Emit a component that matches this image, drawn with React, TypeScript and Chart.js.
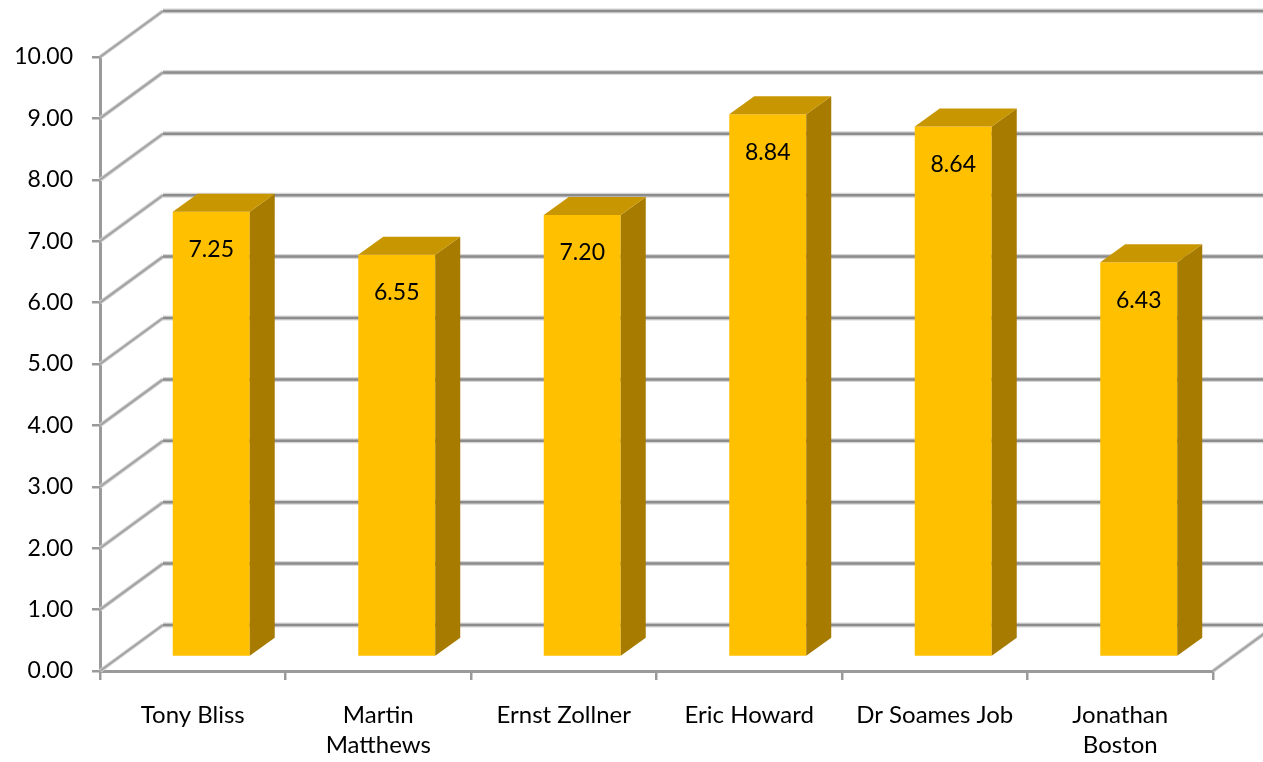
import React, { useEffect, useRef } from "react";
import { Chart, registerables } from "chart.js";

Chart.register(...registerables);

// ---- data ----
const categories: string[][] = [
  ["Tony Bliss"],
  ["Martin", "Matthews"],
  ["Ernst Zollner"],
  ["Eric Howard"],
  ["Dr Soames Job"],
  ["Jonathan", "Boston"],
];
const scores: number[] = [7.25, 6.55, 7.2, 8.84, 8.64, 6.43];
const yMin = 0;
const yMax = 10;
const yStep = 1;

// ---- styles ----
const FONT = "Lato, 'Open Sans', sans-serif";
const FRONT = "#FFC000";
const TOP = "#C89600";
const SIDE = "#A67B00";
const WALL_DX = 63;
const WALL_DY = -46;
const BAR_DX = 18.5;
const BAR_DY = -14;
const SIDE_DX = 25;
const SIDE_DY = -18;
const LABEL_DROP = 38;

const threeD = {
  id: "threeD",
  beforeDatasetsDraw(chart: any) {
    const { ctx, chartArea, scales } = chart;
    const y = scales.y;
    ctx.save();
    ctx.lineCap = "butt";
    for (const t of y.ticks) {
      const py = y.getPixelForValue(t.value);
      ctx.beginPath();
      ctx.moveTo(chartArea.left, py);
      ctx.lineTo(chartArea.left + WALL_DX, py + WALL_DY);
      ctx.strokeStyle = "#d0d0d0";
      ctx.lineWidth = 4;
      ctx.stroke();
      ctx.strokeStyle = "#a3a3a3";
      ctx.lineWidth = 2;
      ctx.stroke();
      ctx.beginPath();
      ctx.moveTo(chartArea.left + WALL_DX, py + WALL_DY);
      ctx.lineTo(chartArea.right + WALL_DX, py + WALL_DY);
      ctx.strokeStyle = "#d6d6d6";
      ctx.lineWidth = 5;
      ctx.stroke();
      ctx.strokeStyle = "#8c8c8c";
      ctx.lineWidth = 2.5;
      ctx.stroke();
    }
    const p0 = y.getPixelForValue(yMin);
    ctx.beginPath();
    ctx.moveTo(chartArea.right, p0);
    ctx.lineTo(chartArea.right + WALL_DX, p0 + WALL_DY);
    ctx.strokeStyle = "#d0d0d0";
    ctx.lineWidth = 4;
    ctx.stroke();
    ctx.strokeStyle = "#a3a3a3";
    ctx.lineWidth = 2;
    ctx.stroke();
    ctx.restore();

    ctx.save();
    ctx.translate(BAR_DX, BAR_DY);
  },
  afterDatasetsDraw(chart: any) {
    const ctx = chart.ctx;
    const meta = chart.getDatasetMeta(0);
    meta.data.forEach((bar: any, i: number) => {
      const { x, y, base, width } = bar.getProps(["x", "y", "base", "width"], true);
      const l = x - width / 2;
      const r = x + width / 2;
      ctx.fillStyle = SIDE;
      ctx.beginPath();
      ctx.moveTo(r, y);
      ctx.lineTo(r + SIDE_DX, y + SIDE_DY);
      ctx.lineTo(r + SIDE_DX, base + SIDE_DY);
      ctx.lineTo(r, base);
      ctx.closePath();
      ctx.fill();
      ctx.fillStyle = TOP;
      ctx.beginPath();
      ctx.moveTo(l, y);
      ctx.lineTo(l + SIDE_DX, y + SIDE_DY);
      ctx.lineTo(r + SIDE_DX, y + SIDE_DY);
      ctx.lineTo(r, y);
      ctx.closePath();
      ctx.fill();
      ctx.fillStyle = "#000";
      ctx.font = `23px ${FONT}`;
      ctx.textAlign = "center";
      ctx.textBaseline = "middle";
      ctx.fillText(scores[i].toFixed(2), x, y + LABEL_DROP);
    });
    ctx.restore();
  },
};

export default function App() {
  const ref = useRef<HTMLCanvasElement | null>(null);
  useEffect(() => {
    if (!ref.current) return;
    const chart = new Chart(ref.current, {
      type: "bar",
      data: {
        labels: categories,
        datasets: [
          {
            data: scores,
            backgroundColor: FRONT,
            borderWidth: 0,
            categoryPercentage: 1,
            barPercentage: 0.415,
            clip: false as any,
          },
        ],
      },
      options: {
        animation: false,
        responsive: false,
        layout: { padding: { top: 57, right: 50, left: 0, bottom: 0 } },
        plugins: {
          legend: { display: false },
          tooltip: { enabled: false },
          title: { display: false },
        },
        scales: {
          x: {
            afterFit: (s: any) => {
              s.height = 91;
            },
            grid: {
              drawOnChartArea: false,
              offset: true,
              tickLength: 9,
              color: "#9a9a9a",
              lineWidth: 2.5,
            },
            border: { display: true, color: "#9a9a9a", width: 3 },
            ticks: {
              color: "#000",
              font: { family: FONT, size: 24, lineHeight: 1.25 },
              padding: 20,
              maxRotation: 0,
              autoSkip: false,
            },
          },
          y: {
            min: yMin,
            max: yMax,
            afterFit: (s: any) => {
              s.width = 100;
            },
            grid: {
              drawOnChartArea: false,
              tickLength: 8,
              color: "#9a9a9a",
              lineWidth: 2.5,
            },
            border: { display: true, color: "#9a9a9a", width: 3 },
            ticks: {
              stepSize: yStep,
              color: "#000",
              font: { family: FONT, size: 23 },
              padding: 19,
              callback: (v: any) => Number(v).toFixed(2),
            },
          },
        },
      },
      plugins: [threeD],
    });
    return () => chart.destroy();
  }, []);
  return (
    <div style={{ position: "fixed", left: 0, top: 0, width: 1263, height: 762, background: "#fff" }}>
      <canvas ref={ref} width={1263} height={762} style={{ display: "block" }} />
    </div>
  );
}
